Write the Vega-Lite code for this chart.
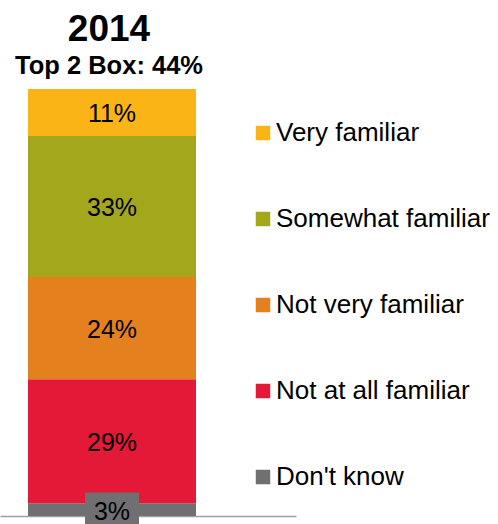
{
  "$schema": "https://vega.github.io/schema/vega-lite/v6.json",
  "width": 296,
  "height": 427,
  "autosize": {"type": "none"},
  "padding": {"left": 0, "top": 89, "right": 202, "bottom": 8},
  "config": {"font": "Liberation Sans", "view": {"stroke": null}},
  "title": {
    "text": "2014",
    "subtitle": "Top 2 Box: 44%",
    "fontSize": 37,
    "fontWeight": "bold",
    "color": "#000000",
    "subtitleFontSize": 25.5,
    "subtitleFontWeight": "bold",
    "subtitleColor": "#000000",
    "subtitlePadding": 5,
    "anchor": "middle",
    "frame": "group",
    "dx": -39,
    "offset": 9
  },
  "data": {
    "values": [
      {"year": "2014", "category": "Don't know", "pct": 3, "rank": 1},
      {"year": "2014", "category": "Not at all familiar", "pct": 29, "rank": 2},
      {"year": "2014", "category": "Not very familiar", "pct": 24, "rank": 3},
      {"year": "2014", "category": "Somewhat familiar", "pct": 33, "rank": 4},
      {"year": "2014", "category": "Very familiar", "pct": 11, "rank": 5}
    ]
  },
  "transform": [
    {"stack": "pct", "groupby": ["year"], "sort": [{"field": "rank", "order": "ascending"}], "as": ["y0", "y1"]},
    {"calculate": "(datum.y0 + datum.y1) / 2", "as": "ymid"},
    {"calculate": "datum.pct + '%'", "as": "label"}
  ],
  "encoding": {
    "x": {
      "field": "year",
      "type": "nominal",
      "scale": {"paddingInner": 0, "paddingOuter": 0.381, "align": 0.21875},
      "axis": {"labels": false, "ticks": false, "title": null, "domain": true, "domainColor": "#a0a0a0", "domainWidth": 1.5}
    }
  },
  "layer": [
    {
      "mark": {"type": "bar"},
      "encoding": {
        "y": {"field": "y0", "type": "quantitative", "scale": {"domain": [0, 100]}, "axis": null},
        "y2": {"field": "y1"},
        "color": {
          "field": "category",
          "type": "nominal",
          "scale": {
            "domain": ["Very familiar", "Somewhat familiar", "Not very familiar", "Not at all familiar", "Don't know"],
            "range": ["#FBB416", "#A2A71C", "#E5801F", "#E31937", "#707072"]
          },
          "legend": {
            "orient": "none",
            "legendX": 250,
            "legendY": 31,
            "title": null,
            "padding": 0,
            "symbolType": "square",
            "symbolSize": 210,
            "symbolStrokeWidth": 0,
            "symbolOpacity": 1,
            "labelFontSize": 26,
            "labelColor": "#000000",
            "labelOffset": 0,
            "labelLimit": 300,
            "rowPadding": 60
          }
        }
      }
    },
    {
      "transform": [{"filter": "datum.category == \"Don't know\""}],
      "mark": {"type": "point", "shape": "M-1,-0.63H1V0.63H-1Z", "filled": true, "size": 2916, "color": "#707072", "opacity": 1},
      "encoding": {
        "y": {"field": "ymid", "type": "quantitative", "axis": null}
      }
    },
    {
      "mark": {"type": "text", "fontSize": 25, "color": "#000000", "dy": 2},
      "encoding": {
        "y": {"field": "ymid", "type": "quantitative", "axis": null},
        "text": {"field": "label"}
      }
    }
  ]
}
